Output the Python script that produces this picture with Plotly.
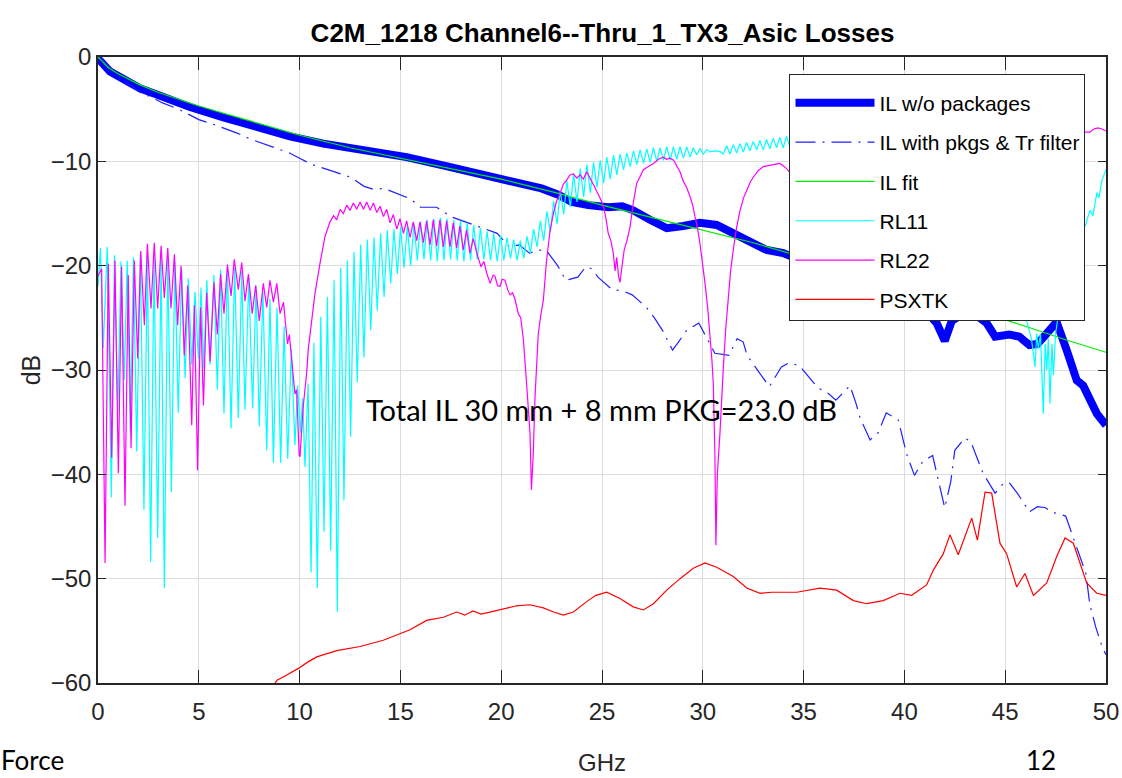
import plotly.graph_objects as go

# ---------------- data ----------------
IL_GHZ = [0.00, 0.10, 0.60, 1.26, 2.08, 2.91, 4.56, 6.22, 7.87, 9.52, 11.18, 12.83, 15.31, 17.38,
          19.03, 20.68, 22.00, 22.83, 23.50, 24.32, 25.31, 26.00, 26.55, 27.38, 28.21, 29.03, 29.86,
          30.69, 31.51, 32.34, 33.17, 33.99, 35.0, 36.5, 38.0, 39.5, 40.8, 41.3, 41.6, 42.0, 42.35,
          43.0, 43.6, 44.08, 44.5, 45.2, 45.7, 46.2, 46.6, 47.06, 47.55, 48.05, 48.55, 48.87, 49.2,
          49.55, 50.0]
IL_DB = [-0.2, -0.35, -1.4, -2.2, -3.0, -3.6, -4.8, -5.8, -6.7, -7.6, -8.3, -8.8, -9.6, -10.5,
         -11.2, -12.0, -12.6, -13.2, -13.9, -14.2, -14.4, -14.3, -14.7, -15.6, -16.4, -16.2, -15.9,
         -16.1, -16.9, -17.9, -18.5, -18.8, -19.6, -20.5, -21.5, -22.5, -23.8, -24.8, -25.5, -27.2, -25.3,
         -24.5, -24.8, -25.5, -26.8, -26.6, -26.8, -27.6, -27.5, -26.5, -25.4, -28.1, -31.0, -31.5, -32.9,
         -34.2, -35.3]

PKG_GHZ = [0.0, 0.5, 1.0, 1.5, 2.1, 2.6, 3.2, 4.0, 4.5, 5.0, 5.8, 6.4, 6.9, 7.6, 8.2, 8.8, 9.5, 10.0,
           10.6, 11.4, 12.0, 12.5, 13.2, 13.7, 14.2, 15.0, 15.5, 16.0, 16.8, 17.5, 18.5, 19.3, 19.8,
           20.4, 20.9, 21.4, 21.9, 22.3, 22.8, 23.2, 23.8, 24.2, 24.5, 24.8, 25.5, 26.0, 26.5, 27.2,
           27.6, 28.0, 28.5, 28.8, 29.2, 29.8, 30.2, 30.6, 31.3, 31.7, 32.0, 32.2, 32.6, 33.0, 33.3,
           33.9, 34.3, 34.8, 35.2, 35.7, 36.2, 36.6, 37.3, 37.6, 37.8, 38.3, 38.7, 39.1, 39.7, 40.1,
           40.5, 40.9, 41.4, 41.7, 42.0, 42.3, 42.5, 43.0, 43.3, 43.9, 44.5, 44.9, 45.2, 45.6, 46.2,
           46.6, 47.0, 47.3, 48.0, 48.6, 49.0, 49.2, 49.5, 49.8, 50.0]
PKG_DB = [0.0, -0.8, -1.8, -2.6, -3.4, -3.8, -4.4, -5.0, -5.5, -6.0, -6.5, -6.9, -7.3, -7.9, -8.3,
          -8.7, -9.2, -9.7, -10.3, -10.8, -11.2, -11.5, -12.4, -12.7, -12.6, -13.2, -13.6, -14.4, -14.4,
          -15.3, -16.0, -16.5, -16.9, -18.2, -18.0, -18.8, -18.5, -18.7, -20.0, -21.4, -21.1, -20.1,
          -20.3, -21.1, -22.3, -22.4, -22.8, -24.0, -25.0, -26.2, -28.1, -27.3, -26.2, -25.5, -27.0,
          -28.4, -28.6, -27.0, -27.3, -28.6, -29.7, -30.8, -31.6, -29.7, -29.3, -29.6, -30.5, -31.7,
          -32.2, -32.9, -31.5, -33.2, -34.6, -36.7, -36.0, -34.1, -34.8, -38.0, -40.1, -38.8, -38.2,
          -40.7, -43.2, -40.7, -37.7, -36.5, -36.9, -39.9, -41.8, -40.9, -40.8, -41.8, -43.6, -43.1,
          -43.2, -43.6, -44.0, -47.3, -49.5, -52.5, -54.7, -56.5, -57.3]

FIT_GHZ = [0.0, 0.5, 1.0, 2.0, 3.0, 5.0, 7.5, 10.0, 12.5, 15.0, 17.5, 20.0, 22.5, 25.0, 27.5, 30.0,
           32.5, 35.0, 37.5, 40.0, 42.5, 45.0, 46.15, 48.0, 50.0]
FIT_DB = [0.0, -1.0, -1.6, -2.6, -3.4, -4.7, -6.1, -7.5, -8.7, -9.7, -10.7, -11.7, -12.9, -14.2,
          -15.4, -16.6, -17.8, -19.2, -20.6, -22.2, -23.7, -25.2, -25.9, -27.1, -28.3]

RL11_GHZ = [0.00, 0.12, 0.26, 0.46, 0.66, 0.82, 0.98, 1.14, 1.30, 1.45, 1.60, 1.76, 1.92, 2.10, 2.28,
            2.45, 2.61, 2.78, 2.96, 3.13, 3.29, 3.46, 3.64, 3.81, 3.98, 4.15, 4.32, 4.48, 4.65, 4.81,
            4.98, 5.11, 5.25, 5.40, 5.56, 5.75, 5.92, 6.08, 6.25, 6.42, 6.60, 6.78, 6.96, 7.13, 7.29,
            7.48, 7.67, 7.84, 8.00, 8.18, 8.37, 8.53, 8.70, 8.88, 9.06, 9.23, 9.41, 9.59, 9.77, 9.90,
            10.04, 10.15, 10.27, 10.42, 10.57, 10.71, 10.88, 11.05, 11.21, 11.38, 11.54, 11.71, 11.87,
            12.04, 12.20, 12.37, 12.53, 12.70, 12.86, 13.03, 13.19, 13.36, 13.53, 13.69, 13.85, 14.02,
            14.19, 14.35, 14.52, 14.68, 14.85, 15.01, 15.18, 15.34, 15.51, 15.67, 15.84, 16.00, 16.17,
            16.33, 16.50, 16.66, 16.83, 16.99, 17.16, 17.32, 17.49, 17.65, 17.82, 17.98, 18.15, 18.31,
            18.48, 18.64, 18.81, 18.97, 19.14, 19.30, 19.47, 19.63, 19.80, 19.96, 20.13, 20.29, 20.46,
            20.62, 20.79, 20.95, 21.12, 21.28, 21.45, 21.61, 21.78, 21.94, 22.11, 22.27, 22.44, 22.60,
            22.77, 22.93, 23.10, 23.26, 23.43, 23.59, 23.76, 23.92, 24.09, 24.25, 24.42, 24.58, 24.75,
            24.91, 25.08, 25.24, 25.41, 25.57, 25.74, 25.90, 26.07, 26.23, 26.40, 26.56, 26.73, 26.89,
            27.06, 27.22, 27.39, 27.55, 27.72, 27.88, 28.05, 28.21, 28.38, 28.54, 28.71, 28.87, 29.04,
            29.20, 29.37, 29.53, 29.70, 29.86, 30.03, 30.19, 30.36, 30.60, 30.85, 31.02, 31.18, 31.35,
            31.51, 31.68, 31.84, 32.01, 32.17, 32.34, 32.50, 32.67, 32.83, 33.00, 33.16, 33.33, 33.49,
            33.66, 33.82, 33.99, 34.15, 34.32, 35.0, 37.0, 39.0, 41.0, 43.0, 44.5, 45.5, 46.10, 46.30,
            46.48, 46.56, 46.64, 46.75, 46.89, 46.98, 47.06, 47.14, 47.22, 47.32, 47.39, 47.50, 47.60,
            48.00, 48.50, 49.00, 49.20, 49.35, 49.55, 49.65, 49.80, 50.00]
RL11_DB = [-22.0, -18.3, -27.9, -18.2, -42.2, -19.0, -34.0, -19.6, -31.0, -19.5, -36.0, -19.2, -37.8,
           -18.8, -43.4, -19.0, -48.4, -19.2, -46.1, -19.3, -50.9, -19.2, -41.7, -19.6, -34.1, -20.3,
           -30.8, -21.2, -29.5, -22.5, -28.9, -22.1, -29.8, -21.4, -29.5, -20.9, -31.9, -20.4, -34.2,
           -20.1, -35.6, -20.2, -34.6, -20.6, -33.8, -21.2, -33.7, -21.9, -35.4, -22.5, -37.7, -23.2,
           -38.9, -24.0, -38.9, -25.8, -38.5, -28.0, -37.2, -31.5, -36.0, -32.7, -39.3, -31.3, -49.4,
           -27.4, -50.9, -24.9, -45.5, -23.0, -47.3, -21.4, -53.2, -20.2, -42.5, -19.5, -36.4, -18.7,
           -31.2, -18.0, -28.8, -17.5, -26.2, -17.3, -24.3, -16.9, -23.0, -16.6, -21.7, -16.5, -20.8,
           -16.3, -20.2, -16.2, -20.0, -16.0, -19.5, -15.8, -19.4, -15.6, -19.5, -15.5, -19.6, -15.4,
           -19.5, -15.5, -19.4, -15.6, -19.5, -15.7, -19.6, -15.9, -19.5, -16.1, -19.4, -16.4, -19.4,
           -16.7, -19.5, -16.9, -19.6, -17.1, -19.5, -17.3, -19.3, -17.5, -19.5, -17.6, -19.3, -17.2,
           -18.8, -16.5, -18.2, -15.7, -17.6, -14.8, -16.8, -13.8, -16.0, -12.8, -15.1, -11.9, -14.4,
           -11.2, -13.9, -10.7, -13.4, -10.3, -13.0, -10.1, -12.5, -9.9, -12.1, -9.6, -11.7, -9.4,
           -11.3, -9.3, -10.8, -9.2, -10.5, -9.0, -10.3, -8.9, -10.2, -8.8, -10.1, -8.7, -10.0, -8.7,
           -9.9, -8.6, -9.9, -8.6, -9.8, -8.6, -9.7, -8.6, -9.6, -8.7, -9.4, -8.8, -9.3, -8.9, -9.1,
           -9.0, -9.05, -9.3, -8.5, -9.3, -8.4, -9.2, -8.3, -9.1, -8.2, -9.0, -8.1, -8.9, -8.0, -8.9,
           -7.9, -8.8, -7.8, -8.7, -7.7, -8.7, -7.6, -8.6, -8.2, -8.5, -9.5, -11.0, -14.0, -18.0, -22.0,
           -25.5, -27.0, -29.7, -26.5, -28.0, -26.5, -34.2, -27.5, -30.0, -27.0, -33.2, -27.5, -30.5,
           -26.5, -25.2, -21.0, -18.0, -16.0, -14.7, -15.2, -13.0, -13.5, -11.8, -10.8]

RL22_GHZ = [0.00, 0.18, 0.35, 0.51, 0.68, 0.84, 1.01, 1.17, 1.34, 1.50, 1.64, 1.80, 1.97, 2.12, 2.30,
            2.45, 2.63, 2.79, 2.96, 3.13, 3.29, 3.46, 3.62, 3.79, 3.95, 4.12, 4.28, 4.45, 4.65, 4.78,
            4.94, 5.09, 5.23, 5.39, 5.56, 5.75, 5.92, 6.08, 6.25, 6.42, 6.60, 6.76, 6.96, 7.13, 7.29,
            7.46, 7.65, 7.82, 8.00, 8.20, 8.37, 8.53, 8.70, 8.87, 9.03, 9.20, 9.40, 9.49, 9.77, 9.85,
            9.98, 10.02, 10.18, 10.35, 10.43, 10.60, 10.76, 11.01, 11.26, 11.51, 11.68, 11.84, 12.01,
            12.17, 12.34, 12.50, 12.67, 12.83, 13.00, 13.17, 13.33, 13.50, 13.66, 13.83, 13.99, 14.16,
            14.32, 14.49, 14.65, 14.82, 14.98, 15.15, 15.31, 15.48, 15.64, 15.81, 15.97, 16.14, 16.30,
            16.47, 16.63, 16.80, 16.96, 17.13, 17.29, 17.46, 17.62, 17.79, 17.95, 18.12, 18.28, 18.45,
            18.61, 18.85, 19.00, 19.14, 19.28, 19.45, 19.60, 19.69, 19.82, 19.94, 20.05, 20.19, 20.32,
            20.44, 20.56, 20.68, 20.85, 20.97, 21.10, 21.26, 21.43, 21.50, 21.59, 21.68, 21.76, 21.84,
            21.96, 22.09, 22.25, 22.42, 22.59, 22.75, 22.92, 23.08, 23.25, 23.41, 23.58, 23.75, 23.91,
            24.08, 24.24, 24.36, 24.49, 24.62, 24.74, 24.90, 25.07, 25.19, 25.31, 25.44, 25.56, 25.65,
            25.73, 25.82, 25.89, 25.98, 26.10, 26.25, 26.39, 26.55, 26.72, 26.88, 27.05, 27.30, 27.55,
            27.80, 28.04, 28.20, 28.37, 28.55, 28.70, 28.87, 29.03, 29.20, 29.37, 29.50, 29.61, 29.74,
            29.86, 29.98, 30.11, 30.24, 30.36, 30.45, 30.52, 30.60, 30.65, 30.72, 30.85, 30.94, 31.02,
            31.14, 31.26, 31.38, 31.51, 31.68, 31.85, 32.02, 32.18, 32.35, 32.51, 32.75, 33.00, 33.25,
            33.50, 33.83, 34.16, 34.33, 35.0, 36.0, 37.0, 38.0, 39.0, 40.0, 41.0, 42.0, 43.0, 44.0,
            45.0, 46.0, 47.0, 48.0, 48.8, 49.2, 49.4, 49.6, 49.8, 50.0]
RL22_DB = [-21.0, -20.3, -48.5, -19.8, -38.4, -19.5, -39.9, -20.1, -43.0, -20.9, -37.5, -19.5, -28.9,
           -18.6, -25.7, -17.9, -24.1, -17.8, -24.1, -18.1, -23.1, -18.3, -24.1, -18.9, -25.7, -20.0,
           -28.6, -21.9, -35.3, -23.8, -39.6, -24.0, -33.4, -22.6, -29.2, -21.6, -26.6, -20.8, -24.6,
           -19.9, -22.9, -19.4, -22.3, -19.7, -23.4, -20.8, -24.6, -21.9, -25.3, -21.7, -24.0, -21.4,
           -23.5, -21.7, -24.6, -23.5, -27.5, -26.6, -32.3, -31.9, -38.2, -38.3, -33.5, -30.3, -28.0,
           -25.3, -22.7, -19.8, -17.2, -15.8, -15.2, -15.6, -14.6, -15.0, -14.2, -14.7, -14.0, -14.6,
           -13.9, -14.6, -13.9, -14.7, -14.0, -14.9, -14.3, -15.3, -14.6, -15.9, -15.1, -16.5, -15.5,
           -16.9, -15.7, -17.3, -15.8, -17.6, -15.8, -17.8, -15.7, -18.0, -15.6, -18.1, -15.6, -18.2,
           -15.7, -18.2, -15.9, -18.3, -16.2, -18.5, -16.6, -18.8, -17.4, -19.2, -20.1, -19.6, -20.7,
           -21.7, -20.9, -21.0, -21.9, -22.0, -21.3, -21.4, -22.3, -22.8, -22.6, -23.2, -24.6, -25.0,
           -27.1, -31.3, -36.1, -41.5, -38.0, -32.5, -29.0, -26.5, -24.8, -23.3, -19.5, -16.7, -15.0,
           -13.8, -13.1, -12.2, -11.8, -11.3, -11.2, -11.6, -11.3, -11.7, -11.0, -11.4, -11.9, -12.4,
           -12.9, -13.5, -14.3, -15.4, -16.9, -17.6, -18.8, -20.5, -19.2, -21.0, -21.6, -20.0, -18.5,
           -17.5, -16.3, -14.0, -12.1, -11.5, -10.8, -10.5, -10.2, -9.8, -9.6, -9.8, -9.7, -9.9, -10.4,
           -11.0, -11.9, -12.5, -13.4, -14.2, -15.3, -16.4, -17.9, -19.5, -21.7, -24.0, -26.5, -29.0,
           -31.3, -38.0, -46.8, -40.0, -36.1, -32.0, -29.7, -26.0, -23.3, -20.5, -18.5, -16.3, -14.7,
           -13.5, -12.8, -12.0, -11.5, -10.9, -10.5, -10.4, -10.3, -10.2, -10.7, -11.1, -12.5, -14.0,
           -12.0, -10.5, -9.5, -10.0, -12.0, -14.0, -13.0, -11.0, -9.5, -8.5, -8.0, -7.5, -7.2, -7.2,
           -6.9, -6.8, -6.9, -7.1]

XTK_GHZ = [8.4, 8.9, 9.3, 9.94, 10.4, 10.85, 11.84, 13.0, 14.15, 14.65, 15.48, 16.3, 17.13, 17.79,
           18.2, 18.6, 19.0, 19.44, 20.1, 20.77, 21.43, 22.09, 22.6, 23.08, 23.58, 24.24, 24.7, 25.23,
           25.89, 26.55, 27.05, 27.55, 28.21, 28.87, 29.53, 30.11, 30.69, 31.51, 32.18, 32.84, 33.42,
           33.83, 34.66, 35.81, 36.64, 37.47, 38.13, 38.95, 39.78, 40.36, 41.1, 41.43, 41.93, 42.26,
           42.67, 43.34, 43.62, 44.0, 44.33, 44.74, 45.07, 45.57, 45.98, 46.4, 47.06, 47.55, 47.97,
           48.38, 49.04, 49.54, 50.0]
XTK_DB = [-61.0, -59.7, -59.3, -58.6, -58.0, -57.5, -56.9, -56.5, -55.9, -55.5, -54.9, -54.0, -53.7,
          -53.2, -53.5, -53.1, -53.4, -53.2, -52.9, -52.6, -52.5, -52.8, -53.2, -53.5, -53.2, -52.2,
          -51.6, -51.3, -51.9, -52.7, -53.0, -52.4, -51.1, -50.0, -49.0, -48.5, -48.9, -49.8, -50.9,
          -51.4, -51.3, -51.3, -51.3, -50.9, -51.1, -52.1, -52.4, -52.1, -51.4, -51.6, -50.6, -49.2,
          -47.6, -45.8, -47.7, -44.2, -46.3, -41.7, -41.8, -46.6, -47.6, -50.8, -49.5, -51.6, -50.4,
          -47.9, -46.1, -46.6, -50.4, -51.4, -51.6]

X_TICKS = [0, 5, 10, 15, 20, 25, 30, 35, 40, 45, 50]
Y_TICKS = [-60, -50, -40, -30, -20, -10, 0]

TITLE = "C2M_1218 Channel6--Thru_1_TX3_Asic Losses"
NOTE = "Total IL 30 mm + 8 mm PKG=23.0 dB"

# ---------------- figure ----------------
MAIN = "Liberation Sans, Arial, sans-serif"
SLIDE = "Lato, Open Sans, sans-serif"
AX = "#262626"

fig = go.Figure()
fig.add_trace(go.Scatter(x=IL_GHZ, y=IL_DB, mode="lines", name="IL w/o packages", legendgroup="a",
                         line=dict(color="#0000ff", width=8)))
fig.add_trace(go.Scatter(x=PKG_GHZ, y=PKG_DB, mode="lines", name="IL with pkgs & Tr filter", legendgroup="b",
                         line=dict(color="#1f1fff", width=1.2, dash="20px,7px,2px,7px")))
fig.add_trace(go.Scatter(x=FIT_GHZ, y=FIT_DB, mode="lines", name="IL fit", legendgroup="c",
                         line=dict(color="#00ee00", width=1.2)))
fig.add_trace(go.Scatter(x=RL11_GHZ, y=RL11_DB, mode="lines", name="RL11", legendgroup="d",
                         line=dict(color="#00ffff", width=1.2)))
fig.add_trace(go.Scatter(x=RL22_GHZ, y=RL22_DB, mode="lines", name="RL22", legendgroup="e",
                         line=dict(color="#ff00ff", width=1.2)))
fig.add_trace(go.Scatter(x=XTK_GHZ, y=XTK_DB, mode="lines", name="PSXTK", legendgroup="f",
                         line=dict(color="#ff0000", width=1.2)))

axis_common = dict(showline=True, linecolor=AX, linewidth=1.5, mirror="allticks", ticks="inside",
                   tickcolor=AX, tickwidth=1.2, showgrid=True, gridcolor="#dcdcdc", gridwidth=1,
                   zeroline=False, automargin=False, tickfont=dict(family=MAIN, size=24, color=AX))

fig.update_layout(
    width=1122, height=778,
    margin=dict(l=98, r=16, t=57, b=95),
    paper_bgcolor="white", plot_bgcolor="white",
    title=dict(text="<b>" + TITLE + "</b>", x=0.537, xanchor="center", y=0.958, yanchor="middle",
               font=dict(family=MAIN, size=26, color="black"), automargin=False),
    xaxis=dict(range=[0, 50], tickvals=X_TICKS, ticklen=13, ticklabelstandoff=6,
               title=dict(text="GHz", font=dict(family=MAIN, size=24, color=AX), standoff=31),
               **axis_common),
    yaxis=dict(range=[-60, 0], tickvals=Y_TICKS, ticklen=8,
               title=dict(text="dB", font=dict(family=MAIN, size=25, color=AX), standoff=3),
               **axis_common),
    legend=dict(x=0.686, y=0.973, xanchor="left", yanchor="top", bgcolor="white",
                bordercolor=AX, borderwidth=1, tracegroupgap=9, itemwidth=79,
                title=dict(text=" ", font=dict(size=6)),
                font=dict(family=MAIN, size=21, color="black")),
    annotations=[
        dict(x=13.19, y=-33.75, xref="x", yref="y", text=NOTE, showarrow=False, xanchor="left",
             yanchor="middle", font=dict(family=SLIDE, size=29, color="black")),
        dict(x=-0.0972, y=-0.1505, xref="paper", yref="paper", text="Force", showarrow=False,
             xanchor="left", yanchor="bottom", borderpad=0,
             font=dict(family=SLIDE, size=26, color="black")),
        dict(x=0.9355, y=-0.1505, xref="paper", yref="paper", text="12", showarrow=False,
             xanchor="center", yanchor="bottom", borderpad=0,
             font=dict(family=SLIDE, size=26, color="black")),
    ],
)

fig.write_html("out.html")
